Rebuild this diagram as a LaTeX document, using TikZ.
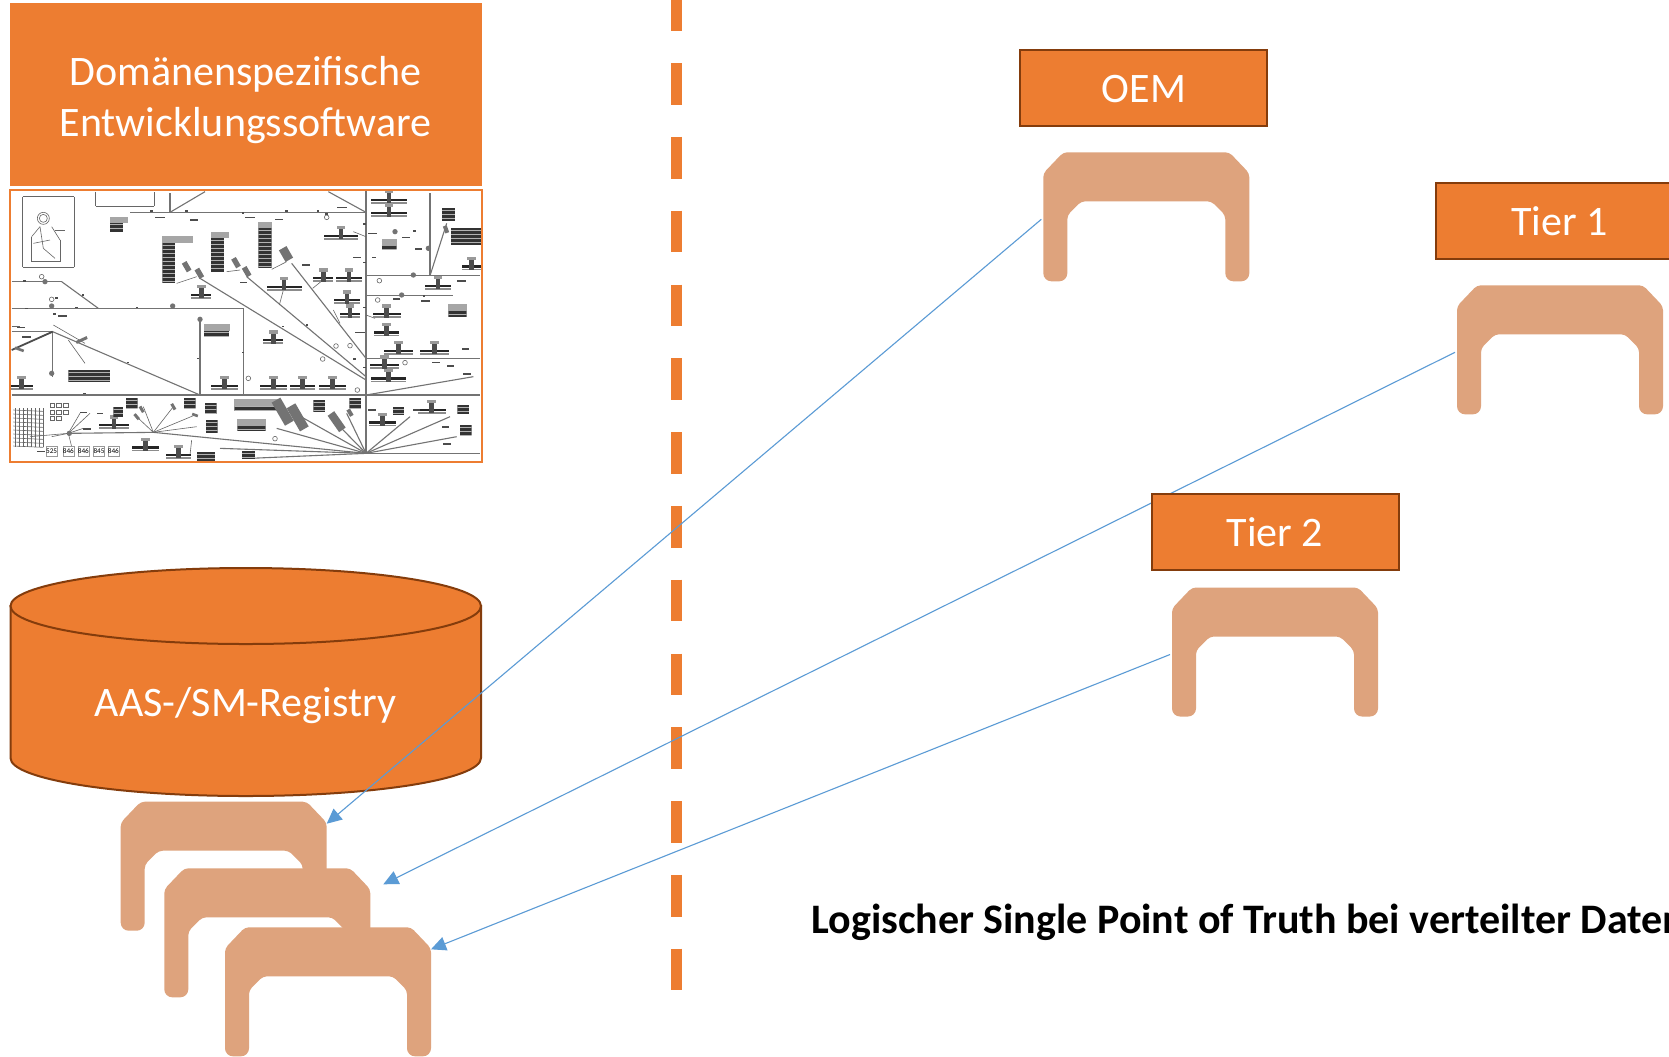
\documentclass[tikz,border=0pt]{standalone}
\usepackage{fontspec}
\setmainfont{Carlito}
\usepackage{xcolor}
\usetikzlibrary{arrows.meta}
\definecolor{boxorange}{HTML}{ED7D31}
\definecolor{boxedge}{HTML}{843C0C}
\definecolor{traytone}{HTML}{DEA37D}
\definecolor{flowblue}{HTML}{5B9BD5}
\tikzstyle{arrow} = [flowblue,line width=0.55pt,-{Triangle[length=7.5pt,width=7pt]}]
\tikzstyle{partner} = [draw=boxedge,line width=1pt,fill=boxorange,text=white,minimum width=123.5pt,minimum height=38pt,inner sep=0pt,text height=14.5pt,text depth=0pt,font=\fontsize{21}{25.5}\selectfont]
\tikzstyle{wire} = [black!55,line width=0.55pt]
\tikzstyle{thinwire} = [black!60,line width=0.3pt]
\tikzset{tray/.pic={
	\fill[white] (24,49) rectangle (182,129);
	\fill[traytone,rounded corners=2pt] (0,21) -- (20,0) -- (186,0) -- (206,21)
	[rounded corners=4pt] -- (206,129) -- (182,129)
	[rounded corners=2pt] -- (182,63) -- (168,49) -- (38,49) -- (24,63)
	[rounded corners=4pt] -- (24,129) -- (0,129)
	[rounded corners=2pt] -- cycle;
	\coordinate (-west) at (-2,67);
	\coordinate (-east) at (206,22);
}}
\begin{document}
\begin{tikzpicture}[x=0.5pt,y=-0.5pt]
	\clip (0,0) rectangle (1669,1056);
	\fill[white] (0,0) rectangle (1669,1056);
	% software
	\node[fill=boxorange,minimum width=236pt,minimum height=91.5pt,inner sep=0pt] (devsoft) at (246,94.5) {};
	\node[text=white,inner sep=0pt,align=center,font=\fontsize{21}{25.5}\selectfont] (devsofttext) at (245.5,100) {Domänenspezifische\\Entwicklungssoftware};
	% schematic, coordinates three times finer
	\begin{scope}[shift={(0,180)},x=0.16667pt,y=-0.16667pt]
		\foreach \Xa/\Ya/\Xb/\Yb in 
		{390/97/1098/97,35/305/185/305,185/305/295/385,35/385/730/385,730/385/730/645,600/410/600/645,
		35/645/1440/645,1098/30/1098/820,35/455/158/455,158/455/600/645,158/455/158/590,
		1098/287/1440/287,1098/347/1360/347,1098/535/1440/535,1290/40/1290/287,1290/287/1340/130,
		600/295/1098/600,740/290/1098/590,875/250/1098/535,1098/645/1420/590,510/40/510/97,510/97/615/35,
		985/35/1098/97,1098/820/830/745,1098/820/885/700,1098/820/1040/700,1098/820/1000/720,
		1098/820/1230/710,1098/820/1350/710,1098/820/1370/770,1098/820/1440/820,1098/820/660/805,
		460/757/1098/820,205/760/460/757,750/835/1098/820}
		{
			\draw[wire] (\Xa,\Ya) -- (\Xb,\Yb);
		}
		\draw[black!70,line width=0.9pt] (35,510) -- (158,455);
		\foreach \Xa/\Ya/\Xb/\Yb in 
		{205/760/155/770,205/760/240/700,205/760/270/700,205/760/250/745,205/760/90/770,205/760/215/800,
		460/757/410/710,460/757/430/680,460/757/520/680,460/757/585/705,460/757/590/740,
		530/310/590/290,680/275/720/270,815/268/860/245,852/323/838/375,938/325/975/295,1000/390/1020/430,
		1098/405/1125/415,1060/155/1098/170,575/780/570/825,68/50/222/50,222/50/222/262,222/262/68/262,
		68/262/68/50,287/35/287/78,287/78/462/78,462/78/462/35,95/245/95/170,180/245/180/180,95/245/180/245,
		95/170/120/140,155/140/180/180,120/140/130/205,130/205/165/235,100/190/150/180,165/150/195/150,
		35/440/60/440,160/435/255/490,205/480/255/550}
		{
			\draw[thinwire] (\Xa,\Ya) -- (\Xb,\Yb);
		}
		\draw[thinwire] (130,115) circle (18);
		\draw[thinwire] (130,115) circle (12);
		% bars
		\foreach \Xc/\Yc/\Wd in 
		{1167/62/110,1167/102/110,1023/170/100,604/347/60,852/323/105,970/297/60,1047/297/78,1041/363/80,
		1050/405/60,1160/405/85,1160/460/75,820/483/60,1195/515/85,1303/515/85,1153/558/85,1165/598/105,
		1314/320/80,1415/262/60,673/620/80,820/620/80,908/620/75,998/620/80,65/620/65,342/738/88,437/805/80,
		535/827/75,1148/730/80,1295/692/85}
		{
			\fill[black!85] (\Xc-\Wd/2,\Yc-6) rectangle (\Xc+\Wd/2,\Yc+1);
			\fill[black!45] (\Xc-\Wd/2,\Yc+4) rectangle (\Xc+\Wd/2,\Yc+9);
			\fill[black!70] (\Xc-7,\Yc-22) rectangle (\Xc+7,\Yc+8);
			\fill[black!40] (\Xc-13,\Yc-32) rectangle (\Xc+13,\Yc-22);
		}
		% text blocks
		\foreach \Xc/\Yc/\Wd/\Ht in 
		{487/190/38/120,632/175/40/100,775/145/40/120,330/125/40/30,1325/85/40/37,1145/178/45/30,
		1345/385/55/27,612/450/75/18,205/570/125/35,1353/145/90/50,703/672/130/21,712/730/85/23,
		590/815/55/30,725/812/40/25,340/680/30/30,378/655/35/30,552/655/35/30,615/668/35/35,618/720/35/40,
		940/660/35/35,1048/655/35/30,1178/680/35/25,1372/676/35/25,1380/735/35/30}
		{
			\begin{scope}
				\clip (\Xc,\Yc) rectangle ++(\Wd,\Ht);
				\fill[black!80] (\Xc,\Yc) rectangle ++(\Wd,\Ht);
				\foreach \Yd in {7,19,...,127}
				{
					\draw[black!30,line width=0.3pt] (\Xc,\Yc+\Yd) -- ++(\Wd,0);
				}
			\end{scope}
		}
		\foreach \Xc/\Yc/\Wd in {487/168/93,632/155/55,775/125/40,330/110/55,1145/178/45,612/433/77,703/658/130,712/718/85,1345/372/55}
		{
			\fill[black!35] (\Xc,\Yc) rectangle ++(\Wd,20);
		}
		% connectors
		\foreach \Xc/\Yc/\Ang/\Wd/\Ht in 
		{560/260/-60/30/16,598/280/-60/30/16,708/248/-60/30/16,740/275/-60/30/16,858/222/-60/40/26,
		1010/725/-55/60/24,848/695/-60/80/30,893/712/-60/80/30,1338/148/-70/22/12,1050/698/-60/22/12,
		245/480/25/36/9,58/508/-20/28/8,425/688/-60/20/9,520/680/-60/20/9,410/710/-50/20/9,585/705/-20/18/8}
		{
			\fill[black!55,rotate around={\Ang:(\Xc,\Yc)}] (\Xc-\Wd/2,\Yc-\Ht/2) rectangle (\Xc+\Wd/2,\Yc+\Ht/2);
		}
		\foreach \Xc/\Yc in {135/305,155/378,518/378,600/418,1205/345,1240/285,1285/205,1185/155,155/580,208/760}
		{
			\fill[black!55] (\Xc,\Yc) circle (8);
		}
		\foreach \Xc/\Yc in {968/537,1008/498,1050/497,745/595,1072/630,825/776,1138/302,1133/360,1215/548,980/112,125/290,155/358}
		{
			\draw[thinwire] (\Xc,\Yc) circle (7);
		}
		% small tags
		\foreach \Xc/\Yc/\Wd in 
		{245/342/8,407/380/8,225/380/8,75/383/8,70/300/8,380/545/8,250/638/8,590/533/8,725/515/8,845/437/8,
		917/433/8,950/90/8,855/90/8,725/97/8,555/90/8,450/90/8,1090/130/8,1090/245/8,1090/380/8,1090/560/8,
		1240/150/8,1268/345/8,975/100/8,1295/545/24,1010/80/30,1105/158/25,1060/230/22,1115/230/12,1065/455/30,
		465/110/30,735/110/30,570/118/25,825/116/25,905/253/25,720/305/22,1205/170/25,1245/205/22,1060/535/8,
		1340/555/22,1385/505/22,1370/300/28,1262/360/28,1390/580/22,1105/688/22,1240/688/20,1325/738/22,1330/790/22,
		175/405/25,160/400/8,165/352/8,50/440/25,65/468/28,1180/355/20,110/812/25,250/745/22,290/698/20,240/695/20}
		{
			\fill[black!70] (\Xc,\Yc) rectangle ++(\Wd,5);
		}
		% bottom left block
		\foreach \Yc in {690,702,...,798}
		{
			\draw[thinwire] (40,\Yc) -- (130,\Yc+4);
		}
		\foreach \Xc in {45,57,...,129}
		{
			\draw[thinwire] (\Xc,685) -- (\Xc,800);
		}
		\foreach \Xc/\Yc in {150/670,170/670,190/670,150/690,170/690,190/690,150/708,170/708}
		{
			\draw[thinwire] (\Xc,\Yc) rectangle ++(14,12);
		}
		% part numbers
		\foreach \Name/\Xc/\Texto in {parta/155/525,partb/205/846,partc/250/846,partd/297/845,parte/340/846}
		{
			\node[draw=black!40,line width=0.2pt,inner sep=0pt,minimum width=5.3pt,minimum height=5pt,font=\fontsize{3.6}{4}\selectfont] (\Name) at (\Xc,814) {\Texto};
		}
		\draw[boxorange,line width=1pt] (30,30) rectangle (1445,845);
	\end{scope}
	% registry
	\draw[fill=boxorange,draw=boxedge,line width=1pt] (10.5,606) -- (10.5,758) .. controls (10.5,779) and (115.6,796) .. (245.75,796) .. controls (375.9,796) and (481,779) .. (481,758) -- (481,606) -- cycle;
	\draw[fill=boxorange,draw=boxedge,line width=1pt] (245.75,606) ellipse [x radius=235.25,y radius=38];
	\node[text=white,inner sep=0pt,font=\fontsize{21}{25.5}\selectfont] (registry) at (245.5,706) {AAS-/SM-Registry};
	% trays
	\pic (traya) at (120.7,801.7) {tray};
	\pic (trayb) at (164.3,868.3) {tray};
	\pic (trayc) at (225,927.3) {tray};
	\coordinate (traygap) at (383.3,884.3);
	\pic (trayoem) at (1043.3,152.3) {tray};
	\pic (traytiera) at (1457,285.3) {tray};
	\pic (traytierb) at (1172,587.5) {tray};
	% dashed border
	\coordinate (bordertop) at (676.8,0);
	\coordinate (borderend) at (676.8,990);
	\draw[boxorange,line width=5.5pt,dash pattern=on 20.85pt off 16.05pt,dash phase=5.35pt] (bordertop) -- (borderend);
	\draw[arrow] (trayoem-west) -- (traya-east);
	\draw[arrow] (traytiera-west) -- (traygap);
	\draw[arrow] (traytierb-west) -- (trayc-east);
	% partners
	\node[partner] (oem) at (1143.8,87.5) {OEM};
	\node[partner] (tierone) at (1559.5,221) {Tier 1};
	\node[partner] (tiertwo) at (1275,531.5) {Tier 2};
	\node[anchor=west,inner sep=0pt,font=\fontsize{21}{25}\selectfont\bfseries] (truth) at (811,922) {Logischer Single Point of Truth bei verteilter Daten};
\end{tikzpicture}
\end{document}
